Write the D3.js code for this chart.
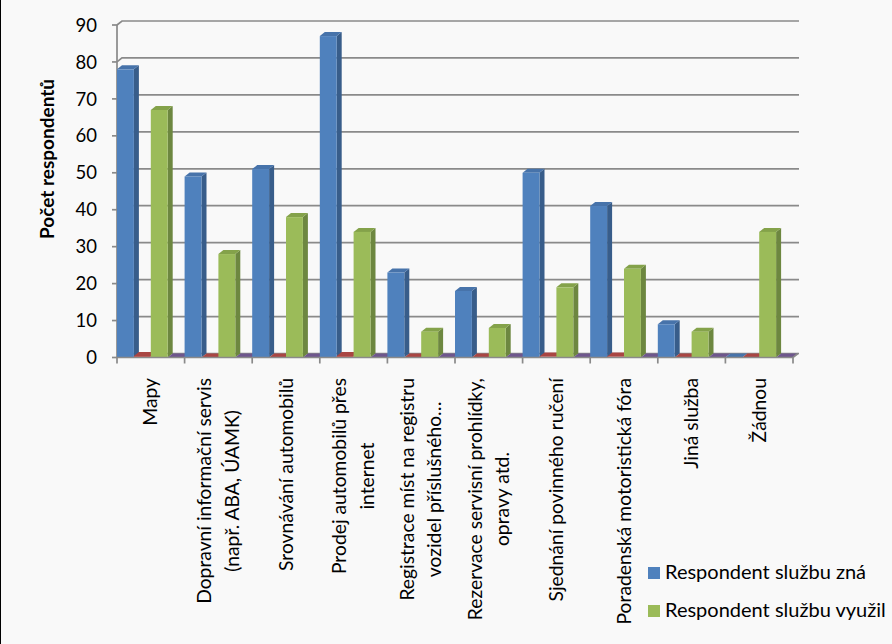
<!DOCTYPE html>
<html>
<head>
<meta charset="utf-8">
<script src="https://cdn.jsdelivr.net/npm/d3@7"></script>
<style>
  body { margin: 0; background: #f9f9f9; }
  svg { display: block; font-family: Lato, "Open Sans", sans-serif; }
</style>
</head>
<body>
<div id="chart"></div>
<script>
// 3D clustered columns - Počet respondentů per service

const categories = [
  ["Mapy"],
  ["Dopravní informační servis", "(např. ABA, ÚAMK)"],
  ["Srovnávání automobilů"],
  ["Prodej automobilů přes", "internet"],
  ["Registrace míst na registru", "vozidel příslušného…"],
  ["Rezervace servisní prohlídky,", "opravy atd."],
  ["Sjednání povinného ručení"],
  ["Poradenská motoristická fóra"],
  ["Jiná služba"],
  ["Žádnou"]
];

const seriesNames = ["Respondent službu zná", "Série 2", "Respondent službu využil", "Série 4"];
const knows = [78, 49, 51, 87, 23, 18, 50, 41, 9, 0];
const empty2 = [0.4, 0, 0, 0.4, 0, 0, 0.3, 0.3, 0, 0];
const uses = [67, 28, 38, 34, 7, 8, 19, 24, 7, 34];
const empty4 = [0, 0, 0, 0, 0, 0, 0, 0, 0, 0];
const yTicks = [0, 10, 20, 30, 40, 50, 60, 70, 80, 90];
const legendItems = [0, 2]; // only two series shown in legend

const colors = [
  { front: "#4f81bd", side: "#385d8a", top: "#4773aa" },
  { front: "#c0504d", side: "#8c3a38", top: "#a94542" },
  { front: "#9bbb59", side: "#6d8740", top: "#84a24a" },
  { front: "#8064a2", side: "#5c4876", top: "#6e568d" }
];

const width = 892, height = 644;
const dx = 5, dy = -4; // 3D depth offset
const labelSize = 19.3;

const svg = d3.select("#chart")
  .append("svg")
  .attr("width", width)
  .attr("height", height);

svg.append("rect").attr("width", width).attr("height", height).attr("fill", "#f9f9f9");
svg.append("line").attr("x1", 0.5).attr("x2", 0.5).attr("y1", 0).attr("y2", height)
  .attr("stroke", "#000").attr("stroke-width", 1);

const x = d3.scaleBand()
  .domain(d3.range(categories.length))
  .range([117, 793])
  .padding(0);

const xs = d3.scaleBand()
  .domain(d3.range(seriesNames.length))
  .range([0, x.bandwidth()])
  .padding(0);

const y = d3.scaleLinear()
  .domain([0, 90])
  .range([357.5, 25]);

const x0 = x.range()[0], xEnd = 799;

// back wall gridlines (with the little diagonal off the side wall)
svg.append("g")
  .selectAll("path")
  .data(yTicks)
  .join("path")
  .attr("d", d => `M${x0},${y(d)}L${x0 + dx},${y(d) + dy}L${xEnd},${y(d) + dy}`)
  .attr("fill", "none")
  .attr("stroke", "#8a8a8a")
  .attr("stroke-width", 1.7);

// y axis
const yAxis = svg.append("g");
yAxis.append("line")
  .attr("x1", x0).attr("x2", x0)
  .attr("y1", y(0)).attr("y2", y(90))
  .attr("stroke", "#8a8a8a").attr("stroke-width", 1.7);
yAxis.selectAll(".tick")
  .data(yTicks)
  .join("line")
  .attr("x1", x0 - 5).attr("x2", x0)
  .attr("y1", d => y(d)).attr("y2", d => y(d))
  .attr("stroke", "#8a8a8a").attr("stroke-width", 1.7);
yAxis.selectAll("text")
  .data(yTicks)
  .join("text")
  .attr("x", 97)
  .attr("y", d => y(d))
  .attr("dy", "0.36em")
  .attr("text-anchor", "end")
  .attr("font-size", 18.5)
  .attr("fill", "#000")
  .text(d => d);

svg.append("text")
  .attr("transform", "translate(54,159) rotate(-90)")
  .attr("text-anchor", "middle")
  .attr("font-size", 19)
  .attr("font-weight", "bold")
  .text("Počet respondentů");

// bars, drawn left to right so fronts cover neighbours' sides
const allSeries = [knows, empty2, uses, empty4];
const bars = [];
categories.forEach((c, i) => {
  allSeries.forEach((vals, s) => bars.push({ i, s, v: vals[i] }));
});

const barG = svg.append("g")
  .selectAll("g")
  .data(bars)
  .join("g");

barG.each(function (d) {
  const g = d3.select(this);
  const bx = x(d.i) + xs(d.s), bw = xs.bandwidth();
  const top = y(d.v), base = y(0);
  const col = colors[d.s];
  g.append("path")
    .attr("d", `M${bx + bw},${top}L${bx + bw + dx},${top + dy}L${bx + bw + dx},${base + dy}L${bx + bw},${base}Z`)
    .attr("fill", col.side);
  g.append("path")
    .attr("d", `M${bx},${top}L${bx + dx},${top + dy}L${bx + bw + dx},${top + dy}L${bx + bw},${top}Z`)
    .attr("fill", col.top);
  g.append("rect")
    .attr("x", bx).attr("y", top)
    .attr("width", bw).attr("height", base - top)
    .attr("fill", col.front);
});

// x axis
const xAxis = svg.append("g");
xAxis.append("path")
  .attr("d", `M${x0},${y(0)}L${x.range()[1]},${y(0)}L${x.range()[1] + dx},${y(0) + dy}`)
  .attr("fill", "none").attr("stroke", "#8a8a8a").attr("stroke-width", 1.7);
xAxis.selectAll("line")
  .data(d3.range(categories.length + 1))
  .join("line")
  .attr("x1", d => x0 + d * x.bandwidth()).attr("x2", d => x0 + d * x.bandwidth())
  .attr("y1", y(0)).attr("y2", y(0) + 6)
  .attr("stroke", "#8a8a8a").attr("stroke-width", 1.7);

// category labels, rotated, wrapped lines centred on the longest one
const lineH = 27.5;
const labelG = xAxis.selectAll("g.lab")
  .data(categories)
  .join("g")
  .attr("class", "lab")
  .attr("transform", (d, i) => `translate(${x(i) + x.bandwidth() / 2 + 6.5},378) rotate(-90)`);

labelG.each(function (lines) {
  const g = d3.select(this);
  const texts = g.selectAll("text")
    .data(lines)
    .join("text")
    .attr("font-size", labelSize)
    .attr("y", (d, k) => (k - (lines.length - 1) / 2) * lineH)
    .text(d => d);
  let maxW = 0;
  texts.each(function () { maxW = Math.max(maxW, this.getComputedTextLength()); });
  texts.attr("text-anchor", "middle").attr("x", -maxW / 2);
});

// legend
const legend = svg.append("g")
  .selectAll("g")
  .data(legendItems)
  .join("g")
  .attr("transform", (d, k) => `translate(648,${567 + k * 38})`);
legend.append("rect")
  .attr("width", 12).attr("height", 12)
  .attr("fill", d => colors[d].front);
legend.append("text")
  .attr("x", 17).attr("y", 12)
  .attr("font-size", 20)
  .text(d => seriesNames[d]);
</script>
</body>
</html>
